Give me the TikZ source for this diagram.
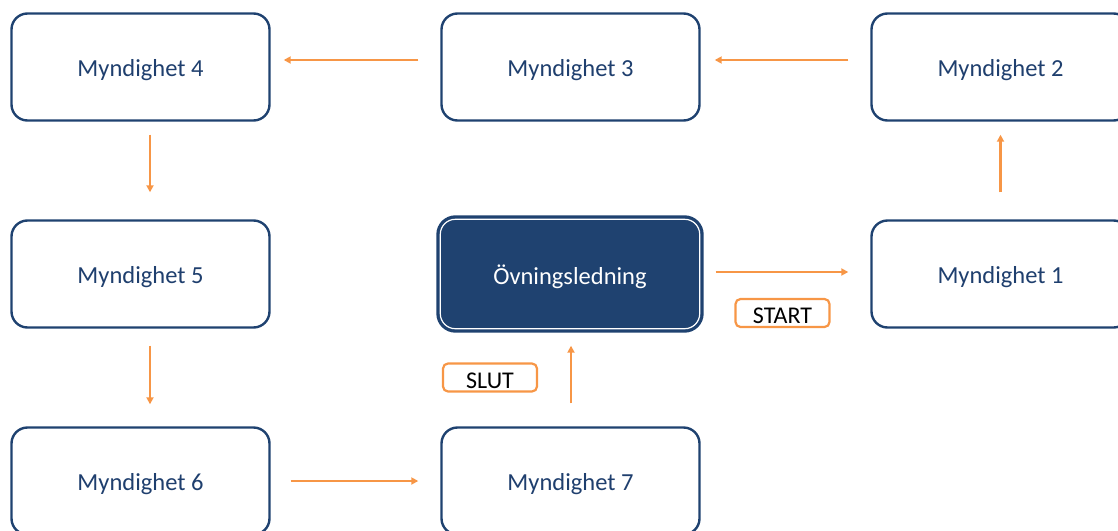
\documentclass[tikz,border=0pt]{standalone}
\usepackage{fontspec}
\setmainfont{Carlito}
\usetikzlibrary{calc,arrows.meta}
\definecolor{dblue}{HTML}{1F4270}
\definecolor{tblue}{HTML}{1F3F6E}
\definecolor{orng}{HTML}{F79646}
\newcommand{\lowtxt}[1]{\raisebox{-3pt}[\height][\depth]{#1}}
\tikzset{
  mbox/.style={draw=dblue, line width=2.4pt, rounded corners=16pt, minimum width=258pt, minimum height=107pt, fill=white, text=tblue, font=\fontsize{24.5}{28}\selectfont},
  cbox/.style={draw=dblue, line width=2.4pt, rounded corners=18pt, minimum width=265pt, minimum height=115pt, fill=dblue, text=white, font=\fontsize{24.5}{28}\selectfont},
  lbl/.style={draw=orng, line width=2.2pt, rounded corners=5pt, minimum width=94pt, minimum height=28pt, fill=white, text=black, font=\fontsize{24}{28}\selectfont, inner sep=0pt},
  flow/.style={draw=orng, line width=2.2pt, -{Triangle[length=7pt,width=7pt]}}
}
\begin{document}
\begin{tikzpicture}[x=1pt,y=-1pt]
\useasboundingbox (0,0) rectangle (1118,530);
\clip (0,0) rectangle (1118,530);
\node[mbox] (m4) at (140.5,67) {\lowtxt{Myndighet 4}};
\node[mbox] (m3) at (570.5,67) {\lowtxt{Myndighet 3}};
\node[mbox] (m2) at (1000.5,67) {\lowtxt{Myndighet 2}};
\node[mbox] (m5) at (140.5,274) {\lowtxt{Myndighet 5}};
\node[cbox] (ov) at (570,274) {\lowtxt{Övningsledning}};
\draw[white, line width=1.2pt, rounded corners=15pt] ($(ov.south west)+(4,-4)$) rectangle ($(ov.north east)+(-4,4)$);
\node[mbox] (m1) at (1000.5,274) {\lowtxt{Myndighet 1}};
\node[mbox] (m6) at (140.5,481) {\lowtxt{Myndighet 6}};
\node[mbox] (m7) at (570.5,481) {\lowtxt{Myndighet 7}};
\node[lbl] (start) at (782.5,313) {\lowtxt{START}};
\node[lbl] (slut) at (490,377.5) {\lowtxt{SLUT}};
\draw[flow] ($(m3.west)+(-22,-7)$) -- ($(m4.east)+(13,-7)$);
\draw[flow] ($(m2.west)+(-22,-7)$) -- ($(m3.east)+(14,-7)$);
\draw[flow] ($(m4.south)+(9.5,13)$) -- ($(m5.north)+(9.5,-27)$);
\draw[flow] ($(m5.south)+(9.5,17)$) -- ($(m6.north)+(9.5,-22)$);
\draw[flow] ($(m6.east)+(20,0)$) -- ($(m7.west)+(-22,0)$);
\draw[flow] ($(m7.north)+(0.5,-23)$) -- ($(ov.south)+(1,13)$);
\draw[flow] ($(ov.east)+(12,-2)$) -- ($(m1.west)+(-22,-2)$);
\draw[flow] ($(m1.north)+(0,-27)$) -- ($(m2.south)+(0,13)$);
\end{tikzpicture}
\end{document}
